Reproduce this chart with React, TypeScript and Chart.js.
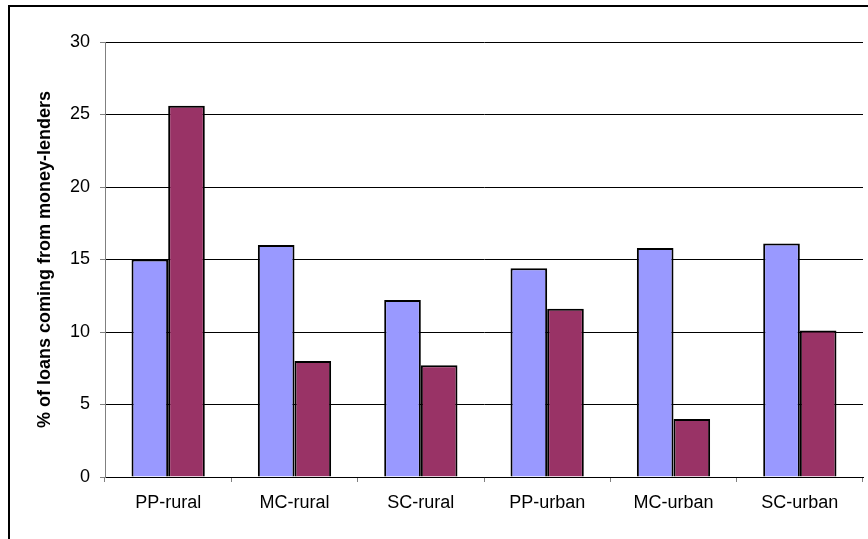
import React, { useEffect, useRef } from "react";
import { Chart, registerables } from "chart.js";

Chart.register(...registerables);

const categories = ["PP-rural", "MC-rural", "SC-rural", "PP-urban", "MC-urban", "SC-urban"];
const seriesA = [15.0, 16.0, 12.2, 14.4, 15.8, 16.1];
const seriesB = [25.6, 8.0, 7.7, 11.6, 4.0, 10.1];
const yTitle = "% of loans coming from money-lenders";

export default function App() {
  const ref = useRef<HTMLCanvasElement | null>(null);

  useEffect(() => {
    if (!ref.current) return;
    const font = { family: "'Liberation Sans', Arial, sans-serif", size: 18 };
    const chart = new Chart(ref.current, {
      type: "bar",
      data: {
        labels: categories,
        datasets: [
          {
            label: "A",
            data: seriesA,
            backgroundColor: "#9999FF",
            borderColor: "#000000",
            borderWidth: 2,
            categoryPercentage: 0.58,
            barPercentage: 1,
          },
          {
            label: "B",
            data: seriesB,
            backgroundColor: "#993366",
            borderColor: "#000000",
            borderWidth: 2,
            categoryPercentage: 0.58,
            barPercentage: 1,
          },
        ],
      },
      options: {
        animation: false,
        responsive: false,
        devicePixelRatio: 1,
        layout: { padding: { top: 42, right: 5, left: 0, bottom: 0 } },
        plugins: {
          legend: { display: false },
          tooltip: { enabled: false },
        },
        scales: {
          x: {
            grid: {
              drawOnChartArea: false,
              drawTicks: true,
              tickLength: 5,
              tickColor: "#808080",
            },
            border: { color: "#000000", width: 1 },
            ticks: { color: "#000000", font, padding: 10, maxRotation: 0 },
            afterFit: (s: any) => {
              s.height = 62;
            },
          },
          y: {
            min: 0,
            max: 30,
            ticks: { stepSize: 5, color: "#000000", font, padding: 10 },
            grid: {
              color: "#000000",
              lineWidth: 1,
              tickLength: 5,
              tickColor: "#808080",
            },
            border: { color: "#808080", width: 1 },
            title: {
              display: true,
              text: yTitle,
              color: "#000000",
              font: { ...font, weight: "bold" },
              padding: { top: 34, bottom: 0 },
            },
            afterFit: (s: any) => {
              s.width = 105;
            },
          },
        },
      },
    });
    return () => chart.destroy();
  }, []);

  return (
    <div style={{ position: "fixed", left: 0, top: 0, width: 868, height: 539, background: "#ffffff", overflow: "hidden" }}>
      <canvas ref={ref} width={868} height={539} style={{ position: "absolute", left: 0, top: 0, width: 868, height: 539 }} />
      <div
        style={{
          position: "absolute",
          left: 8,
          top: 5,
          width: 900,
          height: 600,
          borderLeft: "2px solid #000",
          borderTop: "2px solid #000",
          pointerEvents: "none",
        }}
      />
    </div>
  );
}
